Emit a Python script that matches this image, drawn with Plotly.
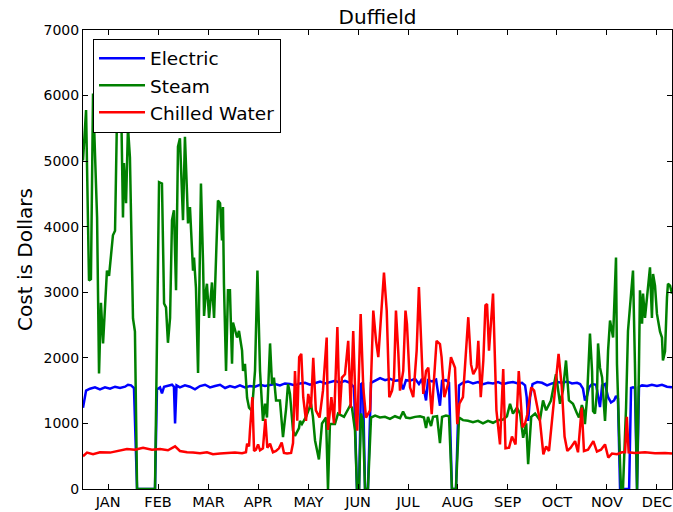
import plotly.graph_objects as go

# ---- data (day of year, cost in dollars) ----
month_labels = ["JAN", "FEB", "MAR", "APR", "MAY", "JUN", "JUL", "AUG", "SEP", "OCT", "NOV", "DEC"]
month_ticks = [15.5, 46.4, 77.6, 108.2, 139.4, 170.0, 200.9, 231.5, 262.4, 292.9, 323.8, 354.7]

electric_days = [0, 1.9, 4.3, 7.4, 10.5, 13.6, 16.7, 19.8, 22.9, 26, 27.8, 29.7, 31.5, 33.4, 44.5, 45.7, 47.6,
                 48.8, 50.1, 52.5, 55, 56.2, 56.9, 57.8, 59.9, 63, 66.1, 69.2, 72.3, 75.4, 78.5, 81.6, 84.7, 87.8,
                 90.8, 93.9, 97, 100.1, 103.2, 106.3, 109.4, 112.5, 115.6, 118.7, 121.7, 124.8, 127.9, 131, 134.1,
                 137.2, 140.3, 143.4, 146.5, 149.6, 152.7, 155.7, 158.8, 161.9, 165, 167.5, 169.3, 170.6, 171.8,
                 173, 174.3, 176.1, 178, 180.5, 183.6, 186.7, 189.7, 192.8, 195.9, 197.8, 199.6, 202.1, 205.2,
                 207.6, 209.5, 212, 213.2, 215.7, 218.2, 220.6, 221.9, 224.3, 226.2, 228, 230.5, 232.4, 234.8,
                 237.9, 241, 244.1, 247.2, 250.3, 253.4, 256.5, 259.6, 262.6, 265.7, 268.8, 271.3, 273.2, 274.2,
                 275.1, 276.3, 277.8, 280.7, 283.7, 286.8, 289.9, 293, 296.1, 299.2, 302.2, 305.3, 307.2, 309,
                 310.2, 311.5, 312.7, 314.6, 317.1, 319.5, 320.8, 322.6, 324.5, 326.3, 328.2, 329.4, 330.6, 331.9,
                 333.7, 337.5, 338.7, 339.9, 341.1, 342.4, 343.6, 345.5, 348.6, 351.6, 354.7, 357.8, 360.9, 364]
electric_cost = [1240, 1500, 1530, 1550, 1520, 1550, 1530, 1560, 1540, 1560, 1590, 1580, 1540, 0, 0, 1520, 1550,
                 1460, 1560, 1570, 1590, 1560, 1000, 1580, 1550, 1580, 1560, 1520, 1570, 1590, 1550, 1570, 1590, 1540,
                 1570, 1550, 1580, 1550, 1570, 1560, 1590, 1570, 1590, 1600, 1580, 1610, 1600, 1580, 1610,
                 1620, 1590, 1620, 1640, 1610, 1630, 1650, 1620, 1650, 1620, 1550, 0, 0, 1600,
                 1620, 0, 0, 1620, 1650, 1690, 1660, 1680, 1650, 1660, 1520, 1660, 1650, 1680,
                 1600, 1680, 1350, 1660, 1640, 1670, 1270, 1650, 1660, 1620, 0, 0, 1580, 1620,
                 1640, 1610, 1630, 1600, 1620, 1610, 1630, 1600, 1620, 1630, 1610, 1620, 1580, 1400,
                 1040, 1400, 1600, 1630, 1620, 1580, 1610, 1630, 1620, 1640, 1610, 1620, 1600, 1530,
                 1350, 1420, 1550, 1600, 1590, 1250, 1580, 1600, 1400, 1320, 1350, 1420, 1380, 0,
                 0, 0, 1540, 1550, 1540, 0, 1560, 1580, 1570, 1590, 1570, 1590, 1560, 1550]

steam_days = [0, 1.9, 3.7, 4.9, 6.2, 8.7, 9.9, 11.1, 12.4, 13.6, 14.8, 16.1, 17.9, 18.5, 19.8, 21, 22.2, 23.5, 24.7,
              25.3, 26.6, 27.8, 29, 30.9, 32.1, 33.4, 44.5, 47, 48.8, 50.1, 51.3, 52.5, 53.8, 55, 56.2, 57.5, 58.7,
              59.9, 61.8, 63, 64.3, 64.9, 66.1, 68, 68.6, 69.8, 71.1, 72.9, 74.2, 74.8, 76, 76.6, 77.9, 79.7, 81,
              82.8, 83.4, 84.7, 85.9, 86.5, 87.1, 88.4, 89.6, 90.8, 92.1, 92.7, 95.2, 96.4, 98.3, 98.9, 100.1, 101.4,
              102.6, 104.4, 106.3, 107.8, 109.4, 111.2, 112.5, 113.7, 115.6, 116.8, 118, 119.3, 121.7, 123.6, 125.5,
              126.7, 127.9, 129.8, 131, 133.5, 134.1, 135.3, 137.8, 140.9, 142.1, 143.4, 145.8, 147.7, 150.2, 151.4,
              152.6, 155.7, 157.6, 161.3, 163.2, 165, 166.2, 168.1, 169.3, 170.6, 171.8, 173, 174.3, 176.1, 178,
              180.5, 183.5, 186.6, 189.7, 192.8, 195.9, 197.8, 199.6, 202.1, 205.2, 208.3, 210.7, 212, 213.2, 215.1,
              216.3, 218.8, 220.6, 221.9, 224.3, 226.2, 228, 230.5, 232.4, 234.8, 237.9, 241, 244.1, 247.2, 250.3,
              253.4, 256.5, 259.6, 262, 263.9, 265.7, 268.2, 270.1, 272, 273.9, 275.1, 277, 279.4, 282.4, 284.3,
              286.2, 289.2, 292.3, 294.8, 296.6, 298.5, 300.3, 302.8, 305.3, 306.5, 308.3, 309.6, 310.2, 311.5,
              313.3, 314.6, 315.2, 316.4, 317.7, 318.3, 319.5, 320.8, 322, 322.6, 323.8, 324.5, 325.7, 326.9, 327.6,
              329.4, 330, 331.9, 332.5, 333.7, 335.6, 336.8, 339.3, 339.9, 341.1, 342.4, 343.6, 344.2, 345.5, 346.1,
              347.3, 349.2, 350.4, 351.6, 352.3, 353.5, 354.7, 356.6, 357.8, 358.4, 359.7, 360.9, 361.5, 362.8, 364]
steam_cost = [5010, 5780, 3180, 3200, 6030, 4140, 1760, 2840, 2220, 2770, 3330, 3250, 3790, 3870, 3940, 5670, 5470,
              5980, 4140, 4970, 4360, 5520, 5060, 2600, 2400, 0, 0, 4680, 4660, 2830, 2770, 2230, 2610, 4100, 4250,
              3030, 5220, 5350, 4100, 5370, 4500, 4050, 4300, 3330, 3530, 3070, 1770, 4660, 3440, 2640, 3030, 3130,
              2610, 3150, 2610, 3900, 4400, 4360, 3790, 4300, 3130, 1800, 3030, 3030, 1910, 2540, 2310, 2410, 2110,
              1800, 1910, 1390, 1240, 1190, 1800, 3330, 1800, 1040, 1300, 1090, 2220, 1600, 1700, 1350, 1350, 790,
              1220, 1600, 1450, 890, 810, 930, 1040, 990, 1100, 1300, 1100, 740, 450, 1000, 1090, 0, 990, 990, 1150,
              1100, 1190, 1270, 1240, 890, 0, 0, 1150, 1040, 0, 0, 1090, 1120, 1090, 1100, 1070, 1110, 1080, 1180,
              1090, 1080, 1100, 1110, 1090, 930, 1100, 960, 1100, 1110, 700, 1100, 1120, 1110, 0, 0, 1090, 1050,
              1040, 1020, 1040, 1000, 1040, 1010, 1050, 1060, 1110, 1300, 1150, 1240, 1150, 780, 1000, 380, 1100,
              1150, 1050, 1350, 1200, 1350, 1750, 1300, 1500, 1960, 1350, 1300, 1150, 1090, 1280, 1180, 990, 1390,
              2370, 1800, 1190, 1150, 1500, 2220, 1850, 1700, 1250, 1040, 1600, 2110, 2570, 2400, 2310, 3530, 1910,
              380, 0, 0, 1240, 2410, 3130, 3330, 1910, 0, 1910, 3030, 2520, 2980, 2610, 3130, 3380, 2610, 3280,
              3100, 2670, 2400, 2310, 1960, 2100, 2920, 3130, 3100, 2980]

chilled_days = [0, 2.5, 6.2, 10.5, 16.7, 21.6, 27.2, 32.1, 37.1, 42.6, 47.6, 52.5, 56.9, 59.9, 64.3, 68, 72.3, 76.6,
                80.3, 84.7, 89.6, 93.9, 98.3, 100.7, 101.4, 102.6, 103.2, 104.7, 105.7, 106.9, 108.2, 109.4, 111.2,
                112.7, 113.9, 115.6, 117.4, 119.3, 121.1, 122.8, 124.2, 126.1, 128.6, 129.8, 131, 132.4, 133.6, 134.9,
                136.1, 137.8, 139.2, 140.9, 142.3, 143.9, 146.2, 148.3, 150.6, 151.4, 153.5, 155.1, 157.2, 158.6, 160,
                161.9, 163.9, 165.4, 167, 168.7, 169.5, 171.6, 173.2, 174.9, 177.4, 179.4, 181.1, 182.5, 186, 187.7,
                189.3, 191, 192.2, 193.4, 194.9, 195.9, 197.9, 199.3, 200.2, 202.1, 204.1, 206.2, 207.6, 208.9, 210.3,
                212, 213.4, 215.5, 218.5, 220.6, 221.6, 223.3, 225.6, 227.4, 229.9, 231.3, 232.6, 234.8, 236.9, 238.1,
                239.8, 241.2, 243.3, 244.3, 245.8, 247.4, 248.7, 249.7, 250.9, 253.4, 255.5, 257.7, 259.7, 261.1,
                263.3, 265.1, 267.3, 269.3, 271.6, 273.2, 274.6, 277, 278.8, 280.7, 282.4, 284.5, 286.2, 288, 291.1,
                293.9, 295.9, 297.6, 299.3, 301.4, 304.1, 305.9, 308.2, 309.6, 312.1, 315.4, 317.6, 320.1, 322.6,
                324.6, 326.9, 330, 333.1, 335, 336.1, 337.2, 341.1, 347.3, 353.5, 359.7, 364]
chilled_cost = [500, 555, 530, 560, 555, 580, 610, 600, 630, 600, 610, 590, 650, 580, 560, 555, 545, 560,
                530, 540, 550, 555, 545, 560, 690, 650, 900, 1400, 580, 600, 680, 590, 620,
                1070, 630, 690, 560, 580, 620, 710, 550, 540, 550, 700, 1800, 1040, 2010, 2060,
                1400, 1040, 1450, 1240, 2000, 1200, 1090, 1500, 2310, 900, 1400, 1000, 2470, 1140, 1700,
                1750, 2260, 1240, 2410, 1090, 890, 2670, 1550, 1090, 1200, 2720, 2260, 2010, 3300, 2720,
                1400, 1500, 1700, 2720, 2060, 1500, 1800, 2720, 2520, 1550, 1400, 2110, 3080, 2360, 1450,
                1800, 1850, 1140, 2260, 2210, 2010, 1400, 1600, 2010, 1850, 990, 1300, 1400, 2260, 2620,
                1900, 1750, 1850, 2260, 1400, 1960, 2800, 2820, 2110, 2980, 1200, 680, 1830, 620,
                630, 800, 680, 1800, 940, 1000, 1140, 1550, 1500, 1250, 1040, 530, 650, 580, 1400,
                2060, 1550, 800, 580, 630, 730, 560, 1240, 580, 600, 730, 570, 600, 680,
                480, 540, 530, 560, 560, 1100, 560, 550, 560, 545, 550, 540]

series = [
    ("Electric", electric_days, electric_cost, "#0000ff"),
    ("Steam", steam_days, steam_cost, "#008000"),
    ("Chilled Water", chilled_days, chilled_cost, "#ff0000"),
]

fig = go.Figure()
for name, xs, ys, col in series:
    fig.add_trace(go.Scatter(x=xs, y=ys, mode="lines", name=name, legendgroup=name,
                             line=dict(color=col, width=2.5)))

font = "DejaVu Sans, Arial, sans-serif"
fig.update_layout(
    width=673, height=512,
    margin=dict(l=83, r=1, t=30, b=23, autoexpand=False),
    paper_bgcolor="white", plot_bgcolor="white",
    font=dict(family=font, color="black", size=14),
    title=dict(text="Duffield", x=0.561, xanchor="center", y=0.967, yanchor="middle",
               font=dict(size=20, family=font, color="black"), automargin=False),
    showlegend=True,
    legend=dict(x=0.017, y=0.981, xanchor="left", yanchor="top",
                bgcolor="white", bordercolor="black", borderwidth=1,
                font=dict(size=18.5, family=font, color="black"),
                itemwidth=46, traceorder="grouped", tracegroupgap=0),
)
fig.update_xaxes(range=[0, 364], tickvals=month_ticks, ticktext=month_labels, automargin=False,
                 ticks="inside", ticklen=5, tickcolor="black", showgrid=False, zeroline=False,
                 showline=True, linecolor="black", linewidth=1, mirror="allticks",
                 tickfont=dict(size=14.5, family=font, color="black"))
fig.update_yaxes(range=[0, 7000], dtick=1000, tick0=0, automargin=False,
                 ticks="inside", ticklen=5, tickcolor="black", showgrid=False, zeroline=False,
                 showline=True, linecolor="black", linewidth=1, mirror="allticks",
                 tickfont=dict(size=14, family=font, color="black"),
                 title=dict(text="Cost is Dollars", font=dict(size=20, family=font, color="black"), standoff=5))

fig.write_html("out.html", config={"displayModeBar": False},
               post_script="document.body.style.margin='0';")
